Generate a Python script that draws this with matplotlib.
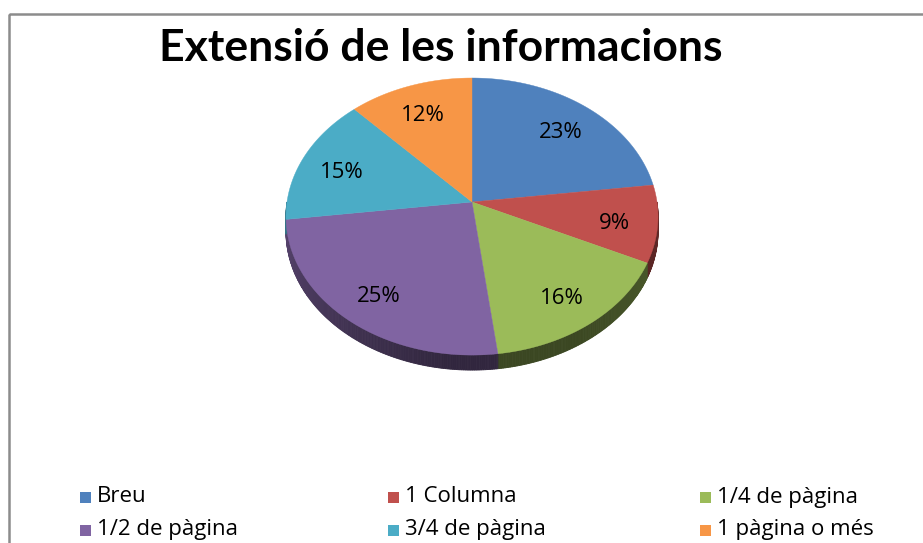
import numpy as np
import matplotlib
matplotlib.use("Agg")
import matplotlib.pyplot as plt
from matplotlib.patches import Polygon, Rectangle
from matplotlib.colors import to_rgb

# dades
categories = ['Breu', '1 Columna', '1/4 de pàgina', '1/2 de pàgina', '3/4 de pàgina', '1 pàgina o més']
valors = [23, 9, 16, 25, 15, 12]
colors = ['#4F81BD', '#C0504D', '#9BBB59', '#8064A2', '#4BACC6', '#F79646']
titol = 'Extensió de les informacions'

plt.rcParams['font.family'] = ['Open Sans', 'DejaVu Sans']

W, H = 923, 543
fig = plt.figure(figsize=(W / 100, H / 100), dpi=100)
ax = fig.add_axes([0, 0, 1, 1])
ax.set_xlim(0, W)
ax.set_ylim(H, 0)
ax.axis('off')

# marc del gràfic
ax.add_patch(Rectangle((9, 13.5), 940, 560, fill=False, edgecolor='#8C8C8C', lw=1.8))

# geometria del pastís 3D (perspectiva)
cx, cy, R, b, k, gruix = 472, 202, 185, 137, 0.105, 15


def proj(theta_deg, rr=1.0):
    t = np.radians(theta_deg)
    x, z = rr * np.sin(t), -rr * np.cos(t)
    f = 1.0 / (1.0 - k * z)
    return cx + R * x * f, cy + b * z * f


total = sum(valors)
angles = np.concatenate([[0], np.cumsum(valors) / total * 360])

# parets laterals (part frontal, de 90 a 270 graus)
for i, c in enumerate(colors):
    a0, a1 = max(angles[i], 90), min(angles[i + 1], 270)
    if a1 <= a0:
        continue
    ts = np.linspace(a0, a1, max(3, int((a1 - a0) * 2)))
    for j in range(len(ts) - 1):
        tm = 0.5 * (ts[j] + ts[j + 1])
        fac = 0.38 + 0.32 * max(0, (tm - 185) / 85) + 0.15 * max(0, (150 - tm) / 60)
        col = tuple(np.array(to_rgb(c)) * fac)
        p0, p1 = proj(ts[j]), proj(ts[j + 1])
        pts = [p0, p1, (p1[0], p1[1] + gruix), (p0[0], p0[1] + gruix)]
        ax.add_patch(Polygon(pts, closed=True, facecolor=col, edgecolor=col, lw=0.6))

# cara superior
for i, c in enumerate(colors):
    ts = np.linspace(angles[i], angles[i + 1], 80)
    pts = [(cx, cy)] + [proj(t) for t in ts]
    ax.add_patch(Polygon(pts, closed=True, facecolor=c, edgecolor=c, lw=0.3))

# etiquetes de percentatge
for i, v in enumerate(valors):
    mid = 0.5 * (angles[i] + angles[i + 1])
    lx, ly = proj(mid, 0.77)
    ax.text(lx, ly + 5, f'{v}%', ha='center', va='center',
            fontsize=16, color='black')

ax.text(441, 48, titol, ha='center', va='center', fontsize=32,
        fontweight='bold', family=['Lato', 'DejaVu Sans'])

# llegenda (3 columnes, ordre per files)
col_x = [80, 388, 700]
fila_y = [497, 530]
for i, (nom, c) in enumerate(zip(categories, colors)):
    x, y = col_x[i % 3], fila_y[i // 3]
    ax.add_patch(Rectangle((x, y - 5.5), 11, 11, facecolor=c, edgecolor='none'))
    ax.text(x + 17, y, nom, ha='left', va='center', fontsize=16, color='black')

fig.savefig('out.png', dpi=100)
